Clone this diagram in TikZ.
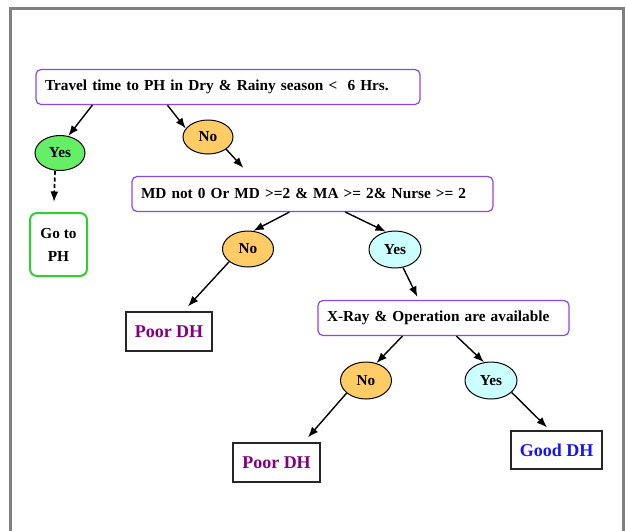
\documentclass[tikz,border=0pt]{standalone}
\usepackage{fontspec}
\setmainfont{Liberation Serif}
\usetikzlibrary{shapes.geometric,arrows.meta,calc}
\definecolor{boxpurple}{RGB}{140,70,230}
\definecolor{yesgreen}{RGB}{102,238,102}
\definecolor{noorange}{RGB}{255,204,102}
\definecolor{yescyan}{RGB}{204,255,255}
\definecolor{gogreen}{RGB}{51,204,51}
\definecolor{poorpurple}{RGB}{128,0,128}
\definecolor{goodblue}{RGB}{20,20,245}
\definecolor{framegray}{RGB}{128,128,128}
\tikzset{
  txt/.style={font=\fontsize{15.3}{18}\selectfont\bfseries},
  rbox/.style={txt,draw=boxpurple,line width=1.2pt,rounded corners=5pt,fill=white,
    align=left,inner xsep=9pt,inner ysep=0pt,minimum height=35pt},
  ell/.style={txt,ellipse,draw=black,line width=1pt,inner sep=0pt},
  resbox/.style={draw=black!85,line width=1.2pt,inner sep=0pt,font=\fontsize{18}{21}\selectfont\bfseries},
  arr/.style={-{Latex[length=10.5pt,width=8pt]},line width=1.4pt,black},
}
\begin{document}
\begin{tikzpicture}[x=1pt,y=-1pt]
\useasboundingbox (0,0) rectangle (626,530);
% frame
\draw[framegray,line width=2.2pt] (10.5,535) -- (10.5,8.5) -- (623.5,8.5) -- (623.5,535);

% decision boxes
\node[rbox,text width=366pt] (T) at (228,87) {Travel time to PH in Dry \& Rainy season <\ \ 6 Hrs.};
\node[rbox,text width=343pt] (MD) at (312.5,194) {MD not 0 Or MD >=2 \& MA >= 2\& Nurse >= 2};
\node[rbox,text width=233pt] (XR) at (443.5,318) {X-Ray \& Operation are available};

% ellipses
\node[ell,fill=yesgreen,minimum width=50pt,minimum height=35pt] (Y1) at (60,153) {Yes};
\node[ell,fill=noorange,minimum width=50pt,minimum height=34pt] (N1) at (208,137) {No};
\node[ell,fill=noorange,minimum width=51pt,minimum height=36pt] (N2) at (248,249) {No};
\node[ell,fill=yescyan,minimum width=52pt,minimum height=37pt] (Y2) at (395,249.5) {Yes};
\node[ell,fill=noorange,minimum width=51pt,minimum height=37pt] (N3) at (366,380.5) {No};
\node[ell,fill=yescyan,minimum width=52pt,minimum height=37pt] (Y3) at (491,380.5) {Yes};

% results
\node[draw=gogreen,line width=2pt,rounded corners=7pt,minimum width=57pt,minimum height=63pt,
  align=center,inner sep=0pt,font=\fontsize{15.3}{23}\selectfont\bfseries] (GO) at (58.5,244.5) {Go to\\PH};
\node[resbox,text=poorpurple,minimum width=86pt,minimum height=39pt] (P1) at (169,331.5) {Poor DH};
\node[resbox,text=poorpurple,minimum width=87pt,minimum height=39pt] (P2) at (276.5,462.5) {Poor DH};
\node[resbox,text=goodblue,minimum width=91pt,minimum height=38pt] (G) at (556.5,450) {Good DH};

% connectors
\draw[arr] ([xshift=57pt]T.south west) -- (Y1.64);
\draw[arr] ([xshift=132pt]T.south west) -- (N1.159);
\draw[arr,dash pattern=on 4pt off 2.5pt,line width=1.7pt] ([xshift=-5pt]Y1.south) -- ([shift={(-4.5pt,10pt)}]GO.north);
\draw[arr] (N1.-34) -- ([shift={(112pt,8pt)}]MD.north west);
\draw[arr] ([xshift=158pt]MD.south west) -- (N2.74);
\draw[arr] ([xshift=214pt]MD.south west) -- (Y2.117);
\draw[arr] (N2.214) -- ([shift={(19pt,5pt)}]P1.north);
\draw[arr] (Y2.-66) -- ([shift={(100pt,3pt)}]XR.north west);
\draw[arr] ([xshift=85pt]XR.south west) -- (N3.59);
\draw[arr] ([xshift=139pt]XR.south west) -- (Y3.111);
\draw[arr] (N3.213) -- ([shift={(31.5pt,5pt)}]P2.north);
\draw[arr] (Y3.-30) -- ([shift={(-9.5pt,3pt)}]G.north);
\end{tikzpicture}
\end{document}
